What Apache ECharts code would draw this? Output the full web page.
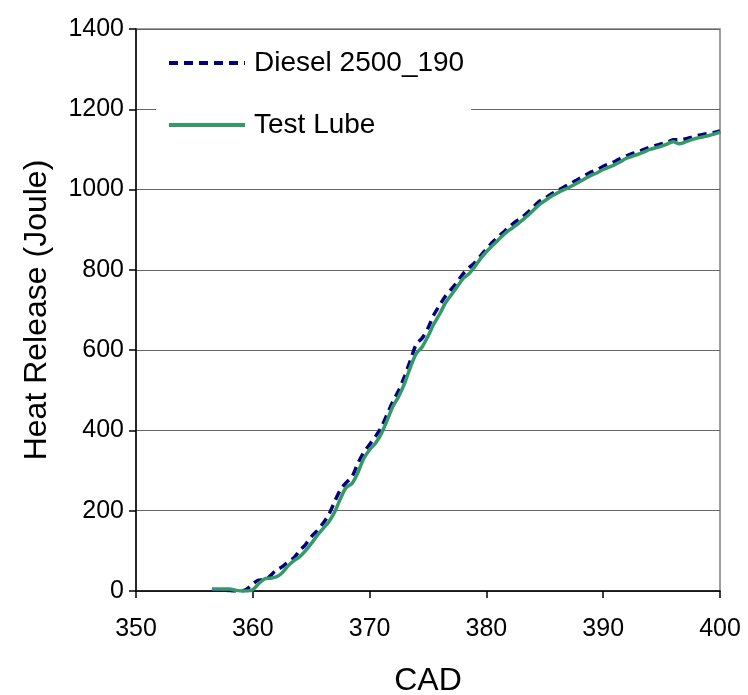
<html>
<head>
    <meta charset="utf-8">
    <title>Heat Release</title>
    <script src="https://cdn.jsdelivr.net/npm/echarts@6/dist/echarts.min.js"></script>
    <style>
        body { margin: 0; background: #fff; }
    </style>
</head>
<body>

<div id="main" style="width: 748px;height:695px;"></div>

<script type="text/javascript">

    // crank angle (CAD)
    var cad = [356.5, 357, 357.5, 358, 358.5, 359, 359.5, 360, 360.5, 361, 361.5, 362, 362.5, 363, 363.5, 364,
        364.5, 365, 365.5, 366, 366.5, 367, 367.5, 368, 368.5, 369, 369.5, 370, 370.5, 371, 371.5, 372,
        372.5, 373, 373.5, 374, 374.5, 375, 375.5, 376, 376.5, 377, 377.5, 378, 378.5, 379, 379.5, 380,
        380.5, 381, 381.5, 382, 382.5, 383, 383.5, 384, 384.5, 385, 385.5, 386, 386.5, 387, 387.5, 388,
        388.5, 389, 389.5, 390, 390.5, 391, 391.5, 392, 392.5, 393, 393.5, 394, 394.5, 395, 395.5, 396,
        396.5, 397, 397.5, 398, 398.5, 399, 399.5, 400];

    // Diesel 2500_190
    var diesel = [2, 2, 2, 1, 0, 0, 5, 18, 27, 28, 38, 52, 60, 72, 82, 100,
        115, 135, 150, 168, 190, 222, 252, 270, 285, 318, 345, 365, 385, 408, 440, 472,
        500, 535, 575, 615, 630, 655, 688, 712, 735, 752, 770, 790, 805, 818, 835, 852,
        868, 882, 895, 908, 920, 930, 942, 956, 970, 978, 988, 996, 1004, 1012, 1020, 1028,
        1036, 1044, 1050, 1058, 1064, 1070, 1078, 1084, 1090, 1094, 1100, 1106, 1110, 1114, 1118, 1124,
        1124, 1126, 1130, 1134, 1137, 1140, 1142, 1146];

    // Test Lube
    var testLube = [5, 5, 5, 5, 2, 0, 0, 3, 18, 30, 32, 35, 45, 62, 75, 85,
        100, 118, 138, 155, 172, 196, 230, 258, 268, 295, 330, 352, 368, 392, 425, 460,
        485, 518, 558, 592, 608, 635, 665, 690, 718, 738, 758, 778, 790, 808, 828, 845,
        860, 874, 888, 900, 910, 922, 934, 948, 962, 972, 982, 990, 998, 1004, 1012, 1020,
        1028, 1036, 1042, 1050, 1056, 1062, 1070, 1078, 1083, 1088, 1094, 1100, 1104, 1108, 1114, 1119,
        1114, 1118, 1124, 1128, 1131, 1134, 1138, 1143];

    function pairs(xs, ys) {
        var out = [];
        for (var i = 0; i < xs.length; i++) out.push([xs[i], ys[i]]);
        return out;
    }

    var font = "'Liberation Sans', Arial, sans-serif";
    var myChart = echarts.init(document.getElementById('main'), null, {renderer: 'canvas'});

    var option = {
        animation: false,
        backgroundColor: '#fff',
        textStyle: { fontFamily: font, color: '#000' },
        grid: {
            left: 136, right: 28, top: 29, bottom: 104,
            outerBoundsMode: 'none',
            containLabel: false,
            show: true, borderColor: '#808080', borderWidth: 1.5, backgroundColor: 'transparent'
        },
        legend: {
            orient: 'vertical',
            left: 156, top: 35,
            padding: [12, 7, 14, 11],
            backgroundColor: '#fff',
            itemWidth: 76, itemHeight: 14, itemGap: 30,
            itemStyle: { opacity: 0 },
            lineStyle: { width: 4 },
            textStyle: { fontFamily: font, fontSize: 28, lineHeight: 32, color: '#000', padding: [0, 0, 0, 4] },
            data: ['Diesel 2500_190', 'Test Lube']
        },
        xAxis: {
            type: 'value',
            min: 350, max: 400, interval: 10,
            name: 'CAD',
            nameLocation: 'middle',
            nameGap: 74,
            nameTextStyle: { fontFamily: font, fontSize: 32, color: '#000' },
            axisLine: { onZero: false, lineStyle: { color: '#000', width: 1.5 } },
            axisTick: { show: true, inside: false, length: 7, lineStyle: { color: '#000', width: 1.5 } },
            axisLabel: { fontFamily: font, fontSize: 25, color: '#000', margin: 26 },
            splitLine: { show: false }
        },
        yAxis: {
            type: 'value',
            min: 0, max: 1400, interval: 200,
            name: 'Heat Release (Joule)',
            nameLocation: 'middle',
            nameGap: 83,
            nameRotate: 90,
            nameTextStyle: { fontFamily: font, fontSize: 32, color: '#000' },
            axisLine: { show: true, lineStyle: { color: '#000', width: 1.5 } },
            axisTick: { show: true, inside: false, length: 7, lineStyle: { color: '#000', width: 1.5 } },
            axisLabel: {
                fontFamily: font, fontSize: 25, color: '#000', margin: 12,
                formatter: function (v) { return String(v); }
            },
            splitLine: { show: true, lineStyle: { color: '#666', width: 1.2 } }
        },
        series: [{
            name: 'Diesel 2500_190',
            type: 'line',
            data: pairs(cad, diesel),
            symbol: 'none',
            smooth: 0.3,
            color: '#000080',
            lineStyle: { color: '#000080', width: 3.5, type: [9, 6] },
            z: 2
        }, {
            name: 'Test Lube',
            type: 'line',
            data: pairs(cad, testLube),
            symbol: 'none',
            smooth: 0.3,
            color: '#339966',
            lineStyle: { color: '#339966', width: 3.5 },
            z: 3
        }]
    };

    myChart.setOption(option);

</script>
</body>
</html>
